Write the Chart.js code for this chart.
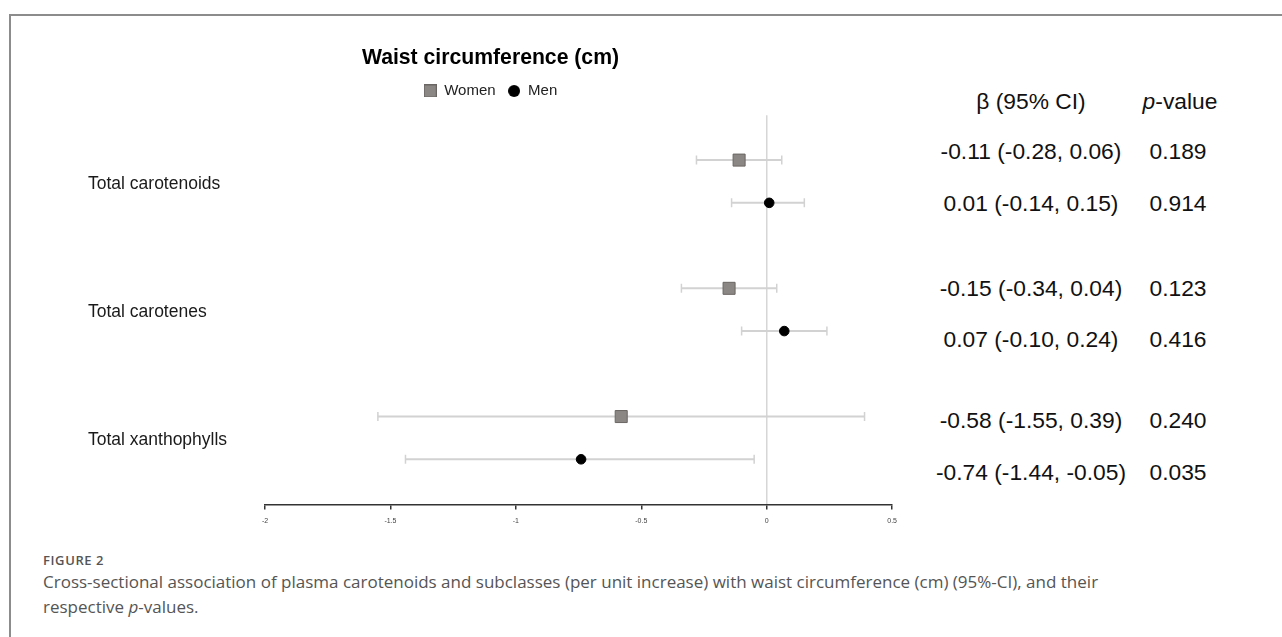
<!DOCTYPE html>
<html>
<head>
<meta charset="utf-8">
<title>Waist circumference (cm)</title>
<script src="https://cdn.jsdelivr.net/npm/chart.js@4.4.0/dist/chart.umd.min.js"></script>
<style>
html, body { margin: 0; padding: 0; background: #fff; }
body { width: 1282px; height: 637px; position: relative; overflow: hidden; font-family: Arial, "Liberation Sans", sans-serif; }
#frame { position: absolute; left: 9px; top: 14px; right: 0; bottom: 0; border-top: 2px solid #8c8c8c; border-left: 2px solid #8c8c8c; }
#wrap { position: absolute; left: 80px; top: 30px; width: 824px; height: 502px; }
.cell { position: absolute; font-size: 22.8px; color: #111; transform: translate(-50%, -50%); white-space: nowrap; }
#caption { position: absolute; left: 43px; top: 551px; width: 1120px; font-family: "Open Sans", sans-serif; color: #555; }
#caption .fig { font-size: 13px; font-weight: 600; line-height: 18px; letter-spacing: 0.6px; }
#caption p { margin: 0; font-size: 17px; line-height: 25px; }
</style>
</head>
<body>
<div id="frame"></div>
<div id="wrap"><canvas id="forest"></canvas></div>
<div id="table"></div>
<div id="caption">
  <div class="fig">FIGURE 2</div>
  <p>Cross-sectional association of plasma carotenoids and subclasses (per unit increase) with waist circumference (cm) (95%-CI), and their respective <i>p</i>-values.</p>
</div>
<script>
// ==================== DATA ====================
const groups = ['Total carotenoids', 'Total carotenes', 'Total xanthophylls'];
const womenBeta = [-0.11, -0.15, -0.58];
const womenLow = [-0.28, -0.34, -1.55];
const womenHigh = [0.06, 0.04, 0.39];
const womenP = ['0.189', '0.123', '0.240'];
const menBeta = [0.01, 0.07, -0.74];
const menLow = [-0.14, -0.10, -1.44];
const menHigh = [0.15, 0.24, -0.05];
const menP = ['0.914', '0.416', '0.035'];
const xTicks = [-2, -1.5, -1, -0.5, 0, 0.5];
// row slots on the y scale (women row, men row, group label)
const womenRow = [1, 4, 7];
const menRow = [2, 5, 8];
const labelRow = [1.56, 4.56, 7.56];

// ==================== HELPERS ====================
const fmt = v => v.toFixed(2);
const ciText = (b, lo, hi) => `${fmt(b)} (${fmt(lo)}, ${fmt(hi)})`;

function icon(size, draw) {
    const c = document.createElement('canvas');
    c.width = size; c.height = size;
    draw(c.getContext('2d'), size);
    return c;
}
const womenIcon = icon(13, (g, s) => { g.fillStyle = '#8b8784'; g.fillRect(0, 0, s, s); g.strokeStyle = '#6a6663'; g.lineWidth = 1; g.strokeRect(0.5, 0.5, s - 1, s - 1); });
const menIcon = icon(12, (g, s) => { g.fillStyle = '#000'; g.beginPath(); g.arc(s / 2, s / 2, s / 2, 0, Math.PI * 2); g.fill(); });

// CI whiskers, drawn under the markers
const errorBars = {
    id: 'errorBars',
    beforeDatasetsDraw(chart) {
        const { ctx, scales: { x, y } } = chart;
        ctx.save();
        ctx.strokeStyle = '#d2d2d2';
        chart.data.datasets.forEach(ds => {
            ds.data.forEach(p => {
                const py = y.getPixelForValue(p.y);
                const x1 = x.getPixelForValue(p.lo), x2 = x.getPixelForValue(p.hi);
                ctx.lineWidth = 2;
                ctx.beginPath(); ctx.moveTo(x1, py); ctx.lineTo(x2, py); ctx.stroke();
                ctx.lineWidth = 1.5;
                ctx.beginPath();
                ctx.moveTo(x1, py - 4.5); ctx.lineTo(x1, py + 4.5);
                ctx.moveTo(x2, py - 4.5); ctx.lineTo(x2, py + 4.5);
                ctx.stroke();
            });
        });
        ctx.restore();
    }
};

// ==================== CHART ====================
const womenData = groups.map((g, i) => ({ x: womenBeta[i], y: womenRow[i], lo: womenLow[i], hi: womenHigh[i] }));
const menData = groups.map((g, i) => ({ x: menBeta[i], y: menRow[i], lo: menLow[i], hi: menHigh[i] }));

new Chart(document.getElementById('forest'), {
    type: 'scatter',
    data: {
        datasets: [
            { label: 'Women', data: womenData, pointStyle: 'rect', pointRadius: 8.5, pointHoverRadius: 8.5, backgroundColor: '#8b8784', borderColor: '#6a6663', borderWidth: 1 },
            { label: 'Men', data: menData, pointStyle: 'circle', pointRadius: 4.8, pointHoverRadius: 4.8, backgroundColor: '#000', borderColor: '#000', borderWidth: 1 }
        ]
    },
    options: {
        responsive: true,
        maintainAspectRatio: false,
        animation: false,
        layout: { padding: { left: 8, right: 11, top: 0, bottom: 0 } },
        plugins: {
            title: { display: true, text: 'Waist circumference (cm)', color: '#000', font: { family: 'Arial', size: 21.2, weight: 'bold' }, padding: { top: 15, bottom: 1 } },
            // empty subtitle used as a spacer between legend and plot
            subtitle: { display: true, text: '', weight: 500, font: { size: 6, lineHeight: 1.13 }, padding: 0 },
            legend: {
                display: true,
                labels: {
                    usePointStyle: true, boxWidth: 13, boxHeight: 13, padding: 12, color: '#222',
                    font: { family: 'Arial', size: 15 },
                    generateLabels: () => [
                        { text: 'Women', pointStyle: womenIcon, fillStyle: '#8b8784', strokeStyle: '#6a6663', lineWidth: 0, datasetIndex: 0, fontColor: '#222' },
                        { text: 'Men', pointStyle: menIcon, fillStyle: '#000', strokeStyle: '#000', lineWidth: 0, datasetIndex: 1, fontColor: '#222' }
                    ]
                }
            },
            tooltip: { enabled: false }
        },
        scales: {
            x: {
                type: 'linear', min: -2, max: 0.5,
                afterBuildTicks: s => { s.ticks = xTicks.map(v => ({ value: v })); },
                ticks: { font: { family: 'Arial', size: 7 }, color: '#444', padding: 7, callback: v => String(v) },
                grid: { color: c => (c.tick && c.tick.value === 0 ? '#d6d6d6' : 'rgba(0,0,0,0)'), lineWidth: 1.5, tickColor: '#333', tickWidth: 1.5, tickLength: 5 },
                border: { color: '#333', width: 1.5 }
            },
            y: {
                type: 'linear', reverse: true, min: -0.05, max: 9.06,
                afterBuildTicks: s => { s.ticks = labelRow.map(v => ({ value: v })); },
                afterFit: s => { s.width = 177; },
                ticks: { autoSkip: false, crossAlign: 'far', color: '#1a1a1a', font: { family: 'Arial', size: 17.5 }, callback: (v, i) => groups[i] },
                grid: { display: false },
                border: { display: false }
            }
        }
    },
    plugins: [errorBars]
});

// ==================== ESTIMATE TABLE ====================
const table = document.getElementById('table');
const rowsY = [151, 203, 288, 339, 420, 472];
function cell(x, y, html) {
    const d = document.createElement('div');
    d.className = 'cell';
    d.style.left = x + 'px'; d.style.top = y + 'px';
    d.innerHTML = html;
    table.appendChild(d);
}
cell(1031, 101, '&beta; (95% CI)');
cell(1180, 101, '<i>p</i>-value');
groups.forEach((g, i) => {
    cell(1031, rowsY[i * 2], ciText(womenBeta[i], womenLow[i], womenHigh[i]));
    cell(1178, rowsY[i * 2], womenP[i]);
    cell(1031, rowsY[i * 2 + 1], ciText(menBeta[i], menLow[i], menHigh[i]));
    cell(1178, rowsY[i * 2 + 1], menP[i]);
});
</script>
</body>
</html>
